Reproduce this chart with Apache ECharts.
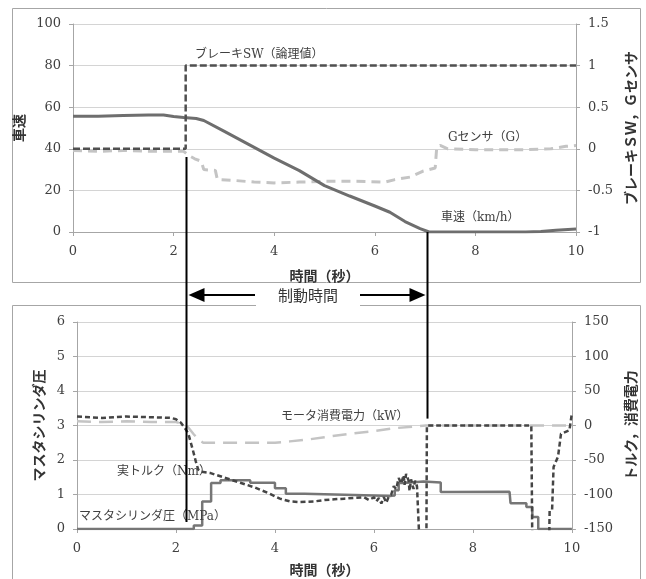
<!DOCTYPE html>
<html><head><meta charset="utf-8">
<script src="https://cdn.jsdelivr.net/npm/echarts@6/dist/echarts.min.js"></script>
<style>html,body{margin:0;padding:0;background:#fff}#c{width:646px;height:579px}</style>
</head><body><div id="c"></div>
<script>
// ---------- data (time in seconds) ----------
const speedKmh = [[0,55.7],[0.5,55.7],[1.0,56],[1.5,56.2],[1.8,56.2],[2.0,55.5],[2.2,55],[2.45,54.6],[2.6,53.6],[3.0,48.5],[3.5,42],[4.0,35.5],[4.5,29.5],[5.0,22.3],[5.5,17.3],[6.0,12.5],[6.3,9.5],[6.6,5],[6.9,1.6],[7.08,0],[8,0],[9,0],[9.3,0.2],[9.6,0.8],[10,1.5]];
const brakeSW = [[0,0],[2.24,0],[2.24,1],[10,1]];
const gSensor = [[0,-0.02],[0.5,-0.03],[1,-0.02],[1.5,-0.03],[2,-0.03],[2.2,-0.03],[2.3,-0.08],[2.42,-0.12],[2.55,-0.15],[2.6,-0.25],[2.83,-0.26],[2.87,-0.37],[3.2,-0.38],[3.6,-0.4],[4.0,-0.41],[4.5,-0.4],[5.0,-0.39],[5.6,-0.39],[6.2,-0.4],[6.4,-0.37],[6.7,-0.34],[6.95,-0.27],[7.2,-0.23],[7.23,0.01],[7.3,0.04],[7.45,0.0],[8,-0.01],[9,-0.01],[9.5,0.0],[9.8,0.03],[10,0.04]];

const masterCylMPa = [[0,0],[2.36,0.1],[2.53,0.8],[2.71,1.33],[2.9,1.41],[3.5,1.34],[4.0,1.18],[4.22,1.02],[4.6,1.0],[5.2,0.98],[5.8,0.96],[6.35,0.97],[6.42,1.12],[6.5,1.33],[6.6,1.38],[7.0,1.35],[7.35,1.07],[7.5,1.08],[8.74,1.07],[8.76,0.75],[9.08,0.64],[9.2,0.35],[9.32,0],[10,0]];
const torqueNm = [[0,13],[0.5,11],[1.0,13],[1.5,12],[1.9,11],[2.0,9],[2.1,4],[2.2,-6],[2.25,-12],[2.3,-25],[2.35,-38],[2.4,-52],[2.45,-64],[2.5,-67],[2.7,-69],[3.0,-76],[3.3,-83],[3.6,-90],[3.9,-99],[4.1,-106],[4.3,-110],[4.5,-111],[4.8,-110],[5.0,-108],[5.2,-107],[5.4,-106],[5.6,-105],[5.8,-104],[5.9,-108],[6.0,-104],[6.05,-110],[6.1,-105],[6.15,-113],[6.2,-104],[6.25,-112],[6.3,-103],[6.35,-100],[6.4,-88],[6.45,-92],[6.5,-76],[6.55,-84],[6.6,-72],[6.62,-86],[6.65,-70],[6.7,-80],[6.72,-95],[6.75,-78],[6.8,-92],[6.83,-80],[6.87,-88],[6.9,-90],[6.92,-170],[7.06,-170],[7.07,0],[9.18,0],[9.2,-170],[9.54,-170],[9.55,-124],[9.6,-122],[9.63,-60],[9.72,-45],[9.78,-12],[9.95,-7],[10,18]];
const motorPowerKW = [[0,6],[0.5,5],[1,6],[1.5,5],[2.0,5],[2.15,2],[2.25,-3],[2.35,-12],[2.45,-20],[2.55,-25],[3,-25],[3.5,-25],[4.0,-25],[4.3,-23],[4.7,-20],[5.0,-17],[5.5,-12],[6.0,-8],[6.4,-4],[6.8,-1.5],[7.05,0],[8,0],[9,0],[10,0]];

const brakeOn = 2.24, brakeOff = 7.04;   // 制動時間 start / end (s)

// ---------- styling ----------
const NUMF = '"DejaVu Serif", "Noto Sans CJK JP", serif';
const JPF = '"Noto Sans CJK JP", sans-serif';
const axisCol = '#a6a6a6', gridCol = '#d4d4d4', txt = '#404040';

function xAx(gi, gap){
  return {type:'value', gridIndex:gi, min:0, max:10, interval:2,
    name:'時間（秒）', nameLocation:'middle', nameGap:gap,
    nameTextStyle:{fontFamily:JPF, fontSize:14, fontWeight:'bold', color:'#333'},
    axisLine:{show:true, lineStyle:{color:axisCol}}, axisTick:{show:true, length:4, lineStyle:{color:axisCol}},
    axisLabel:{fontFamily:NUMF, fontSize:13, color:txt, margin:13}, splitLine:{show:false}};
}
function yAx(gi, pos, min, max, iv, name, gap, split){
  return {type:'value', gridIndex:gi, position:pos, min:min, max:max, interval:iv,
    name:name, nameLocation:'middle', nameRotate:90, nameGap:gap,
    nameTextStyle:{fontFamily:JPF, fontSize:14, fontWeight:'bold', color:'#333'},
    axisLine:{show:true, lineStyle:{color:axisCol}}, axisTick:{show:true, length:4, lineStyle:{color:axisCol}},
    axisLabel:{fontFamily:NUMF, fontSize:13, color:txt, margin:12},
    splitLine:{show:split, lineStyle:{color:gridCol, width:1}}};
}
function ln(name, xi, yi, data, color, width, type, step){
  const s = {name:name, type:'line', xAxisIndex:xi, yAxisIndex:yi, data:data, showSymbol:false, symbol:'none',
    lineStyle:{color:color, width:width, type:type}, clip:true};
  if (step) s.step = step;
  return s;
}

const chart = echarts.init(document.getElementById('c'), null, {renderer:'canvas'});
const option = {
  animation:false, backgroundColor:'#fff',
  grid:[{left:73, top:24, width:505, height:208}, {left:77, top:322, width:501, height:207}],
  xAxis:[xAx(0,37), xAx(1,34)],
  yAxis:[yAx(0,'left',0,100,20,'車速',38,true),
         yAx(0,'right',-1,1.5,0.5,'ブレーキＳＷ，Ｇセンサ',42,false),
         yAx(1,'left',0,6,1,'マスタシリンダ圧',30,true),
         yAx(1,'right',-150,150,50,'トルク，消費電力',43,false)],
  series:[
    ln('Gセンサ',0,1,gSensor,'#c4c4c4',3,[9,6]),
    ln('車速',0,0,speedKmh,'#6e6e6e',3,'solid'),
    ln('ブレーキSW',0,1,brakeSW,'#4f4f4f',2.5,[7,3]),
    ln('モータ消費電力',1,3,motorPowerKW,'#c4c4c4',2.5,[14,8]),
    ln('マスタシリンダ圧',1,2,masterCylMPa,'#767676',2.5,'solid','end'),
    ln('実トルク',1,3,torqueNm,'#454545',2.5,[5,3])
  ]
};
chart.setOption(option);

// ---------- annotations ----------
const px = (xi, yi, x, y) => chart.convertToPixel({xAxisIndex:xi, yAxisIndex:yi}, [x, y]);
const x1 = Math.round(px(0,0,brakeOn,0)[0]) + 0.5;
const x2 = Math.round(px(0,0,brakeOff,0)[0]) + 0.5;
const l1top = px(0,0,brakeOn,36)[1], l1bot = px(1,2,brakeOn,0.2)[1];
const l2top = px(0,0,brakeOff,0)[1], l2bot = px(1,3,brakeOff,10)[1];
const ay = 295;

function label(text, x, y, size, fam, col){
  return {type:'text', z:50, style:{text:text, x:x, y:y, fill:col||txt, font:(size||12)+'px '+(fam||NUMF), textVerticalAlign:'middle', textAlign:'left'}};
}
const graphics = [
  {type:'rect', z:-10, shape:{x:12.5, y:8.5, width:628, height:274}, style:{fill:'none', stroke:axisCol, lineWidth:1}},
  {type:'rect', z:-10, shape:{x:12.5, y:305.5, width:628, height:290}, style:{fill:'none', stroke:axisCol, lineWidth:1}},
  {type:'rect', z:40, shape:{x:256, y:286, width:104, height:22}, style:{fill:'#fff', stroke:'none'}},
  {type:'text', z:50, style:{text:'制動時間', x:308, y:ay, fill:'#333', font:'15px '+JPF, textAlign:'center', textVerticalAlign:'middle'}},
  {type:'line', z:60, shape:{x1:x1, y1:l1top, x2:x1, y2:l1bot}, style:{stroke:'#000', lineWidth:2}},
  {type:'line', z:60, shape:{x1:x2, y1:l2top, x2:x2, y2:l2bot}, style:{stroke:'#000', lineWidth:2}},
  {type:'line', z:60, shape:{x1:x1+14, y1:ay, x2:255, y2:ay}, style:{stroke:'#000', lineWidth:2}},
  {type:'polygon', z:60, shape:{points:[[x1+2,ay],[x1+18,ay-7],[x1+18,ay+7]]}, style:{fill:'#000'}},
  {type:'line', z:60, shape:{x1:360, y1:ay, x2:x2-14, y2:ay}, style:{stroke:'#000', lineWidth:2}},
  {type:'polygon', z:60, shape:{points:[[x2-2,ay],[x2-18,ay-7],[x2-18,ay+7]]}, style:{fill:'#000'}},
  label('ブレーキSW（論理値）', 195, 55),
  label('Gセンサ（G）', 448, 138),
  label('車速（km/h）', 441, 218),
  label('モータ消費電力（kW）', 281, 417),
  label('実トルク（Nm）', 117, 472),
  label('マスタシリンダ圧（MPa）', 79, 517)
];
chart.setOption({graphic:graphics});
</script>
</body></html>
